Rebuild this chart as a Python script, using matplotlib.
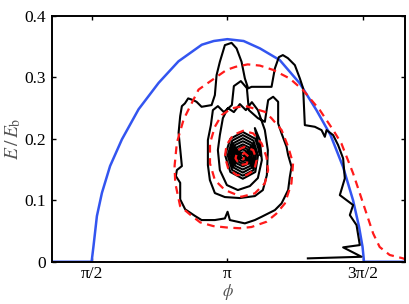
import numpy as np
import matplotlib
matplotlib.use("Agg")
import matplotlib.pyplot as plt

plt.rcParams['font.family'] = ['Liberation Serif', 'DejaVu Serif']
plt.rcParams['mathtext.fontset'] = 'stix'

# x values are phi / pi
blue_phi = [0.353, 0.5, 0.507, 0.5195, 0.538, 0.568, 0.6116, 0.673, 0.747, 0.82, 0.906, 0.95,
            1.0, 1.06, 1.120, 1.193, 1.267, 1.328, 1.38, 1.426, 1.463, 1.485, 1.498, 1.5025, 1.503, 1.654]
blue_E = [0.0, 0.0, 0.0255, 0.0743, 0.112, 0.1556, 0.199, 0.248, 0.291, 0.326, 0.353, 0.359,
          0.362, 0.359, 0.347, 0.328, 0.290, 0.2467, 0.206, 0.1545, 0.100, 0.057, 0.024, 0.004, 0.0, 0.0]

red_phi = [1.66, 1.647, 1.598, 1.561, 1.537, 1.512, 1.488, 1.463, 1.439, 1.420, 1.390, 1.3406, 1.279,
           1.230, 1.1686, 1.120, 1.075, 1.030, 0.997, 0.9356, 0.894, 0.863, 0.839, 0.814, 0.8056, 0.808,
           0.826, 0.862, 0.90, 0.948, 1.003, 1.046, 1.089, 1.144, 1.18, 1.212, 1.236, 1.242, 1.224, 1.200,
           1.163, 1.138, 1.0645, 1.0155, 0.979, 0.954, 0.936, 0.936, 0.954, 0.991, 1.052, 1.101, 1.138,
           1.150, 1.144, 1.126, 1.095, 1.058, 1.021, 0.997, 0.991, 1.003, 1.034, 1.071, 1.099, 1.108,
           1.095, 1.064, 1.038, 1.030, 1.046, 1.071, 1.079, 1.062, 1.050, 1.058, 1.062]
red_E = [0.003, 0.0055, 0.011, 0.024, 0.046, 0.079, 0.111, 0.144, 0.171, 0.1925, 0.214, 0.2467, 0.279,
         0.298, 0.312, 0.319, 0.321, 0.317, 0.312, 0.293, 0.280, 0.253, 0.2315, 0.1935, 0.1556, 0.1284,
         0.0905, 0.077, 0.064, 0.058, 0.0555, 0.0545, 0.0565, 0.065, 0.078, 0.0949, 0.1275, 0.160, 0.187,
         0.214, 0.2332, 0.2439, 0.2536, 0.2494, 0.2385, 0.2195, 0.1925, 0.160, 0.1328, 0.1166, 0.1057,
         0.1112, 0.1275, 0.149, 0.1707, 0.1925, 0.2088, 0.213, 0.2060, 0.1898, 0.1707, 0.1519, 0.141,
         0.141, 0.149, 0.1654, 0.1816, 0.187, 0.1816, 0.1681, 0.1573, 0.1589, 0.1707, 0.1772, 0.1718,
         0.1665, 0.170]

red_base_phi = [0.353, 1.654]
red_base_E = [0.0, 0.0]

black_phi = [1.2965, 1.4942, 1.4264, 1.4879, 1.4758, 1.4511, 1.4633, 1.4143, 1.4327, 1.4264, 1.4080,
             1.3896, 1.3653, 1.3591, 1.3469, 1.3222, 1.2854, 1.2792, 1.2670, 1.2486, 1.2228, 1.2044,
             1.1897, 1.1750, 1.1628, 1.0892, 1.0766, 1.0645, 1.0523, 1.0339, 1.0155, 0.9909, 0.9724,
             0.9603, 0.9540, 0.9419, 0.9051, 0.8866, 0.8741, 0.8557, 0.8436, 0.8325, 0.8263, 0.8204,
             0.8263, 0.8325, 0.8141, 0.8104, 0.8263, 0.8263, 0.8447, 0.8815, 0.9051, 0.9540, 0.9909,
             1.0008, 1.0093, 1.0645, 1.1013, 1.1260, 1.1750, 1.1996, 1.2118, 1.2239, 1.2302, 1.2364,
             1.2239, 1.2180, 1.1996, 1.1871, 1.1871, 1.1687, 1.1503, 1.1381, 1.1124, 1.0792, 1.0719,
             1.0497, 1.0240, 1.0166, 0.9872, 0.9651, 0.9467, 0.9393, 0.9283, 0.9283, 0.9356, 0.9540,
             0.9909, 1.0461, 1.1013, 1.1308, 1.1455, 1.1492, 1.1381, 1.1124, 1.0903, 1.0682, 1.0461,
             1.0240, 1.0019, 0.9835, 0.9724, 0.9651, 0.9724, 0.9982, 1.0387, 1.0829, 1.1124, 1.1271,
             1.1197, 1.1013,
             1.122, 1.103, 1.057, 1.011, 0.992, 1.011, 1.057, 1.103,
             1.113, 1.096, 1.057, 1.018, 1.001, 1.018, 1.057, 1.096,
             1.105, 1.091, 1.057, 1.023, 1.009, 1.023, 1.057, 1.091,
             1.097, 1.085, 1.057, 1.029, 1.017, 1.029, 1.057, 1.085,
             1.089, 1.080, 1.057, 1.034, 1.025, 1.034, 1.057, 1.080,
             1.081, 1.074, 1.057, 1.040, 1.033, 1.040, 1.057, 1.074,
             1.073, 1.068, 1.057, 1.046, 1.041, 1.046, 1.057, 1.068,
             1.065, 1.063, 1.057, 1.051, 1.049, 1.051, 1.057, 1.063, 1.058]
black_E = [0.0055, 0.0081, 0.0234, 0.0271, 0.0596, 0.0759, 0.0922, 0.1084, 0.1356, 0.1681, 0.1897,
           0.2060, 0.2141, 0.2032, 0.2141, 0.2195, 0.2222, 0.2819, 0.2982, 0.3198, 0.3312, 0.3361,
           0.3328, 0.3144, 0.2845, 0.2845, 0.2819, 0.2982, 0.3252, 0.3470, 0.3560, 0.3523, 0.3252,
           0.3035, 0.2710, 0.2548, 0.2520, 0.2601, 0.2629, 0.2657, 0.2575, 0.2531, 0.2369, 0.2097,
           0.1827, 0.1556, 0.1491, 0.1393, 0.1284, 0.1014, 0.0852, 0.0743, 0.0678, 0.0678, 0.0705,
           0.0813, 0.0678, 0.0624, 0.0678, 0.0731, 0.0840, 0.0949, 0.1057, 0.1166, 0.1382, 0.1544,
           0.1735, 0.1870, 0.2088, 0.2250, 0.2601, 0.2683, 0.2629, 0.2276, 0.2336, 0.2466, 0.2824,
           0.2938, 0.2857, 0.2548, 0.2434, 0.2531, 0.2466, 0.2222, 0.1979, 0.1572, 0.1328, 0.1117,
           0.1052, 0.1036, 0.1068, 0.1166, 0.1409, 0.1816, 0.2141, 0.2466, 0.2596, 0.2466, 0.2564,
           0.2434, 0.2499, 0.2336, 0.2060, 0.1816, 0.1491, 0.1247, 0.1166, 0.1231, 0.1361, 0.1653,
           0.1979, 0.2174,
           0.173, 0.200, 0.211, 0.200, 0.173, 0.146, 0.135, 0.146,
           0.173, 0.197, 0.206, 0.197, 0.173, 0.149, 0.140, 0.149,
           0.173, 0.193, 0.201, 0.193, 0.173, 0.153, 0.145, 0.153,
           0.173, 0.190, 0.196, 0.190, 0.173, 0.156, 0.150, 0.156,
           0.173, 0.186, 0.191, 0.186, 0.173, 0.160, 0.155, 0.160,
           0.173, 0.183, 0.187, 0.183, 0.173, 0.163, 0.159, 0.163,
           0.173, 0.180, 0.183, 0.180, 0.173, 0.166, 0.163, 0.166,
           0.173, 0.177, 0.178, 0.177, 0.173, 0.169, 0.168, 0.169, 0.173]

xtick_pos = [0.5, 1.0, 1.5]
xtick_labels = ['π/2', 'π', '3π/2']
ytick_pos = [0, 0.1, 0.2, 0.3, 0.4]
ytick_labels = ['0', '0.1', '0.2', '0.3', '0.4']

fig = plt.figure(figsize=(4.09, 3.04), dpi=100)
ax = fig.add_axes([0.1264, 0.139, 0.8636, 0.809])

ax.plot(blue_phi, blue_E, color='#3355f0', lw=1.8, zorder=2)
ax.plot(red_base_phi, red_base_E, color='#ff2020', lw=1.4, ls=(0, (3.5, 2.5)), zorder=3)
ax.plot(black_phi, black_E, color='black', lw=1.5, zorder=3, solid_joinstyle='round')
ax.plot(red_phi, red_E, color='#ff1a1a', lw=1.6, ls=(0, (3.5, 2.5)), zorder=4)

ax.set_xlim(0.353, 1.654)
ax.set_ylim(0, 0.4)
ax.set_xticks(xtick_pos)
ax.set_xticklabels(xtick_labels)
ax.set_yticks(ytick_pos)
ax.set_yticklabels(ytick_labels)
ax.tick_params(direction='in', length=3, width=1.0, top=True, right=True,
               labelsize=12.5, colors='black', pad=4)
ax.tick_params(axis='x', pad=3)
for sp in ax.spines.values():
    sp.set_linewidth(1.4)
    sp.set_zorder(5)

ax.set_xlabel(r'$\phi$', fontsize=12, color='#555555', labelpad=0)
ax.set_ylabel(r'$E\,/\,E_{\mathrm{b}}$', fontsize=14, color='#555555', labelpad=1)

fig.savefig('out.png', dpi=100)
